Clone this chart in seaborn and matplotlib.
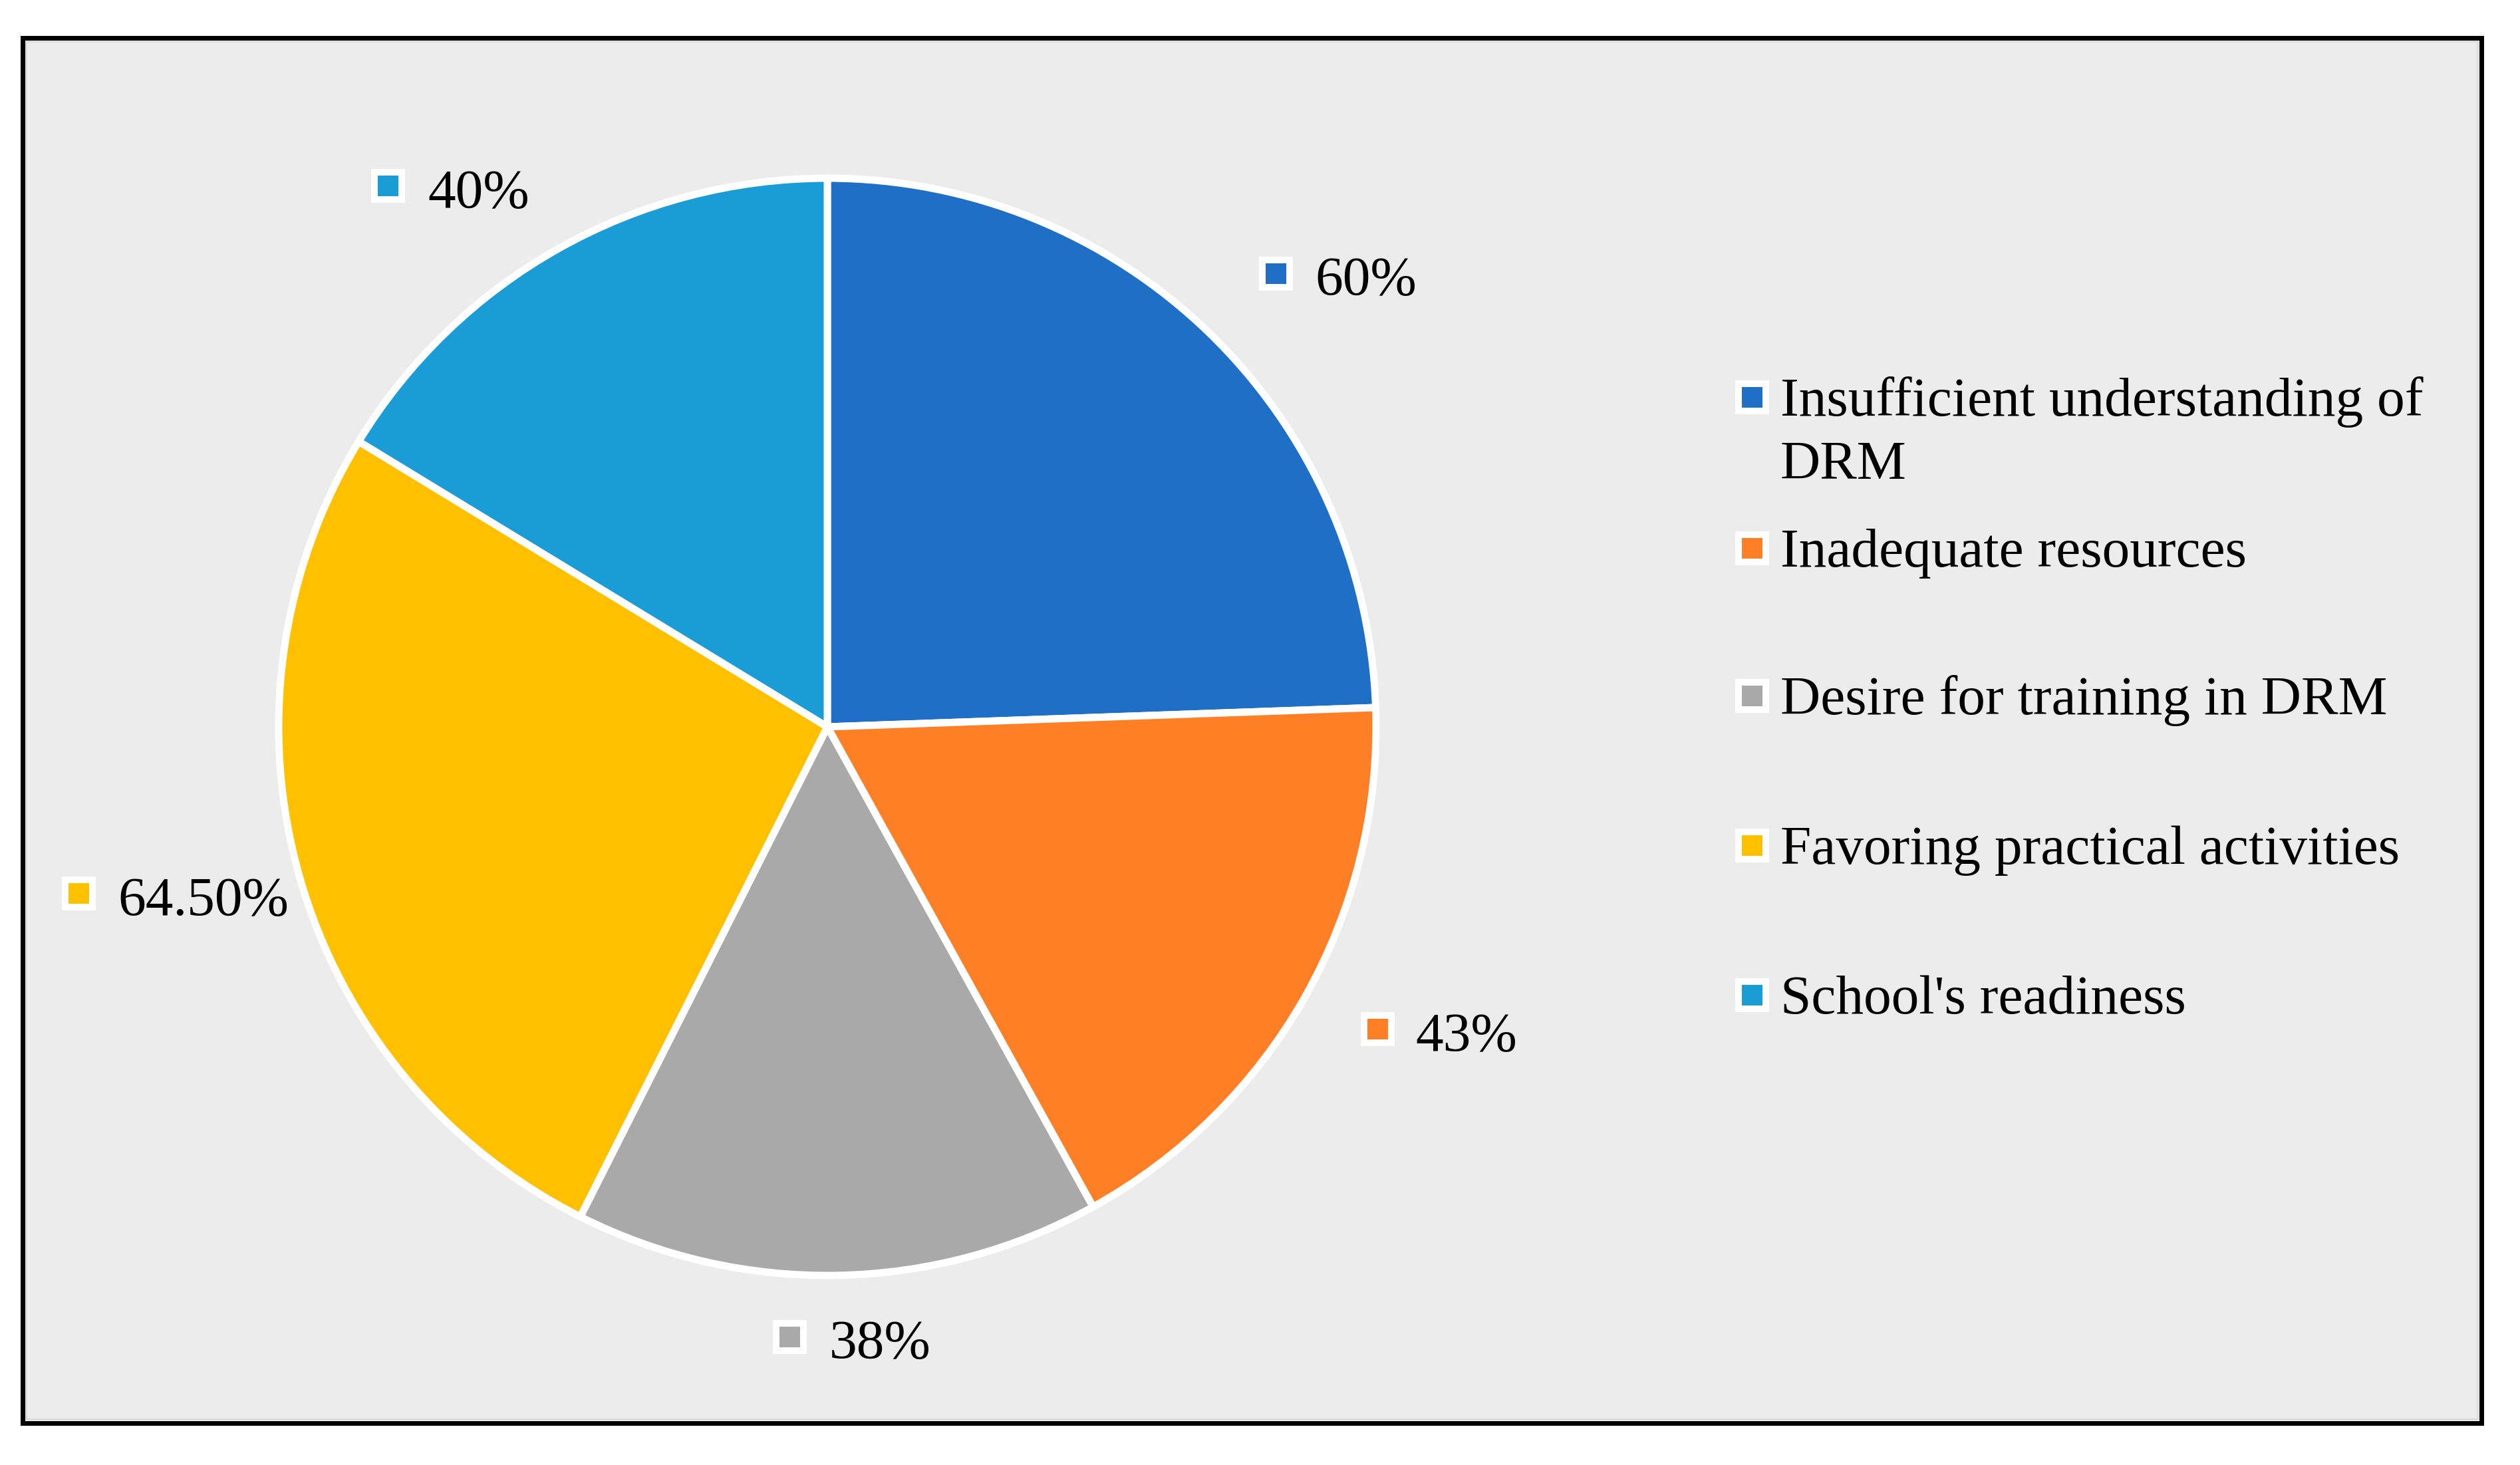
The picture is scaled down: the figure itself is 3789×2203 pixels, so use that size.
import matplotlib
matplotlib.use("Agg")
import matplotlib.pyplot as plt
from matplotlib.patches import Rectangle
import seaborn as sns

# ---- data ----
categories = ["Insufficient understanding of\nDRM", "Inadequate resources",
              "Desire for training in DRM", "Favoring practical activities",
              "School's readiness"]
values = [60, 43, 38, 64.5, 40]
value_labels = ["60%", "43%", "38%", "64.50%", "40%"]
colors = ["#1F6FC6", "#FF7F27", "#A9A9A9", "#FFC000", "#1A9CD6"]

# ---- layout (pixel units of the 3789x2203 canvas, y measured from top) ----
W, H = 3789, 2203
DPI = 200
PT = 72.0 / DPI                      # points per pixel
pie_center = (1244, 1093)
pie_radius = 825
# data label: (marker x, marker y, text x, text baseline y)
label_layout = [(1918, 411, 1977, 443),
                (2071, 1547, 2128, 1580),
                (1187, 2010, 1247, 2042),
                (118, 1343, 177, 1376),
                (583, 279, 643, 312)]
legend_marker_x, legend_text_x = 2634, 2677
legend_rows = [597, 824, 1046, 1271, 1496]   # cap-centre of first line
line_gap = 95

sns.set_theme(style="white")
plt.rcParams["font.family"] = ["Liberation Serif", "DejaVu Serif"]

fig = plt.figure(figsize=(W / DPI, H / DPI), dpi=DPI)
fig.patch.set_facecolor("white")
ax = fig.add_axes([0, 0, 1, 1])

def fy(y):
    return H - y

# panel background and border
ax.add_patch(Rectangle((39, fy(2134)), 3686, 2134 - 62, facecolor="#ECECEC",
                       edgecolor="#DCDCDC", linewidth=3 * PT, zorder=0))
ax.add_patch(Rectangle((33.5, fy(2139.5)), 3730.5 - 33.5, 2139.5 - 56.5,
                       facecolor="none", edgecolor="black", linewidth=7 * PT,
                       joinstyle="miter", zorder=5))

palette = sns.color_palette(colors)
wedges, _ = ax.pie(values, colors=palette, startangle=90, counterclock=False,
                   center=(pie_center[0], fy(pie_center[1])), radius=pie_radius,
                   wedgeprops=dict(edgecolor="white", linewidth=11 * PT, zorder=2),
                   frame=False)

FS = 30
# data labels
for (mx, my, tx, ty), lab, col in zip(label_layout, value_labels, palette):
    ax.plot([mx], [fy(my)], marker="s", markersize=41 * PT, markerfacecolor=col,
            markeredgecolor="white", markeredgewidth=10 * PT, linestyle="none",
            zorder=4)
    ax.text(tx, fy(ty), lab, fontsize=FS, color="black", ha="left",
            va="baseline", zorder=4)

# legend
for row_y, cat, col in zip(legend_rows, categories, palette):
    ax.plot([legend_marker_x], [fy(row_y)], marker="s", markersize=41 * PT,
            markerfacecolor=col, markeredgecolor="white",
            markeredgewidth=10 * PT, linestyle="none", zorder=4)
    for i, line in enumerate(cat.split("\n")):
        ax.text(legend_text_x, fy(row_y + 28 + i * line_gap), line,
                fontsize=FS, color="black", ha="left", va="baseline", zorder=4)

ax.set_xlim(0, W)
ax.set_ylim(0, H)
ax.set_aspect("equal")
ax.axis("off")

fig.savefig("out.png", dpi=DPI, facecolor="white")
